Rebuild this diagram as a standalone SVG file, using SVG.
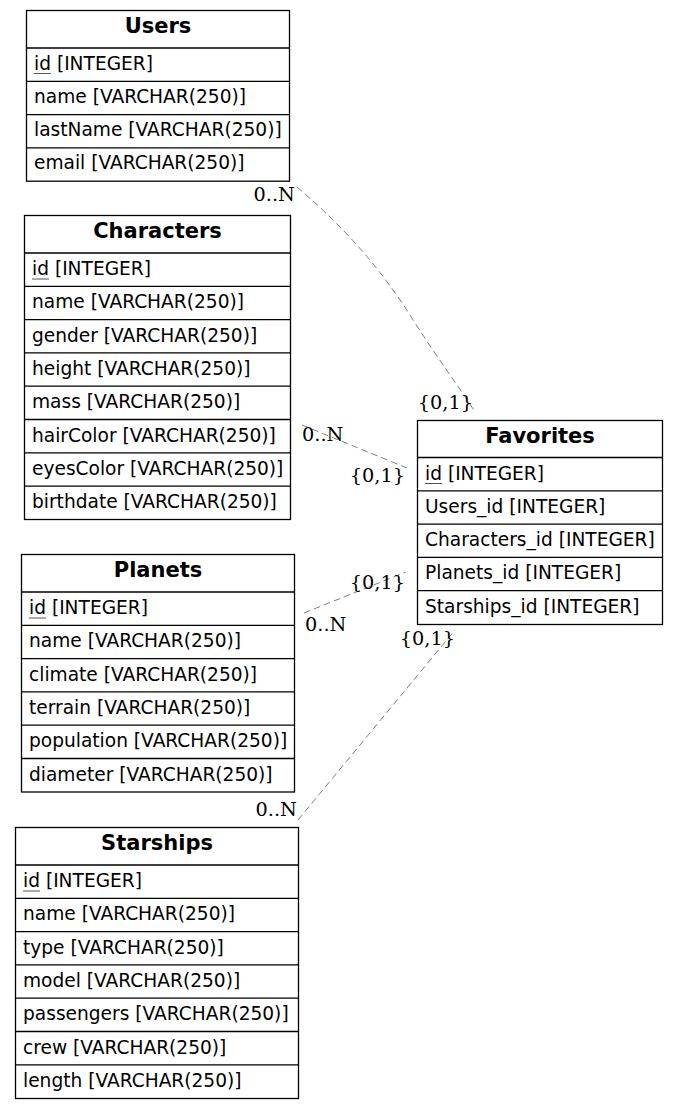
<svg xmlns="http://www.w3.org/2000/svg" width="677" height="1109" viewBox="0 0 677 1109">
<style>
.box{fill:#fff;stroke:#000;stroke-width:1.3}
.sep{stroke:#000;stroke-width:1.3}
.hd{font-family:"DejaVu Sans",sans-serif;font-weight:bold;font-size:21px;text-anchor:middle;fill:#000}
.f{font-family:"DejaVu Sans",sans-serif;font-size:18.6px;fill:#000}
.ul{stroke:#555;stroke-width:1}
.e{fill:none;stroke:#808080;stroke-width:1;stroke-dasharray:6.7,4}
.lb{font-family:"DejaVu Serif",serif;font-size:19.3px;fill:#000}
</style>
<rect width="677" height="1109" fill="#fff"/>
<g id="edges">
<path class="e" d="M297,187 C345,228 380,268 410,315 C435,355 460,388 475,412"/>
<path class="e" d="M302,425 L407,468"/>
<path class="e" d="M304,613 L406,572"/>
<path class="e" d="M298,820 L455,630"/>
<text class="lb" x="295" y="201" text-anchor="end">0..N</text>
<text class="lb" x="473" y="409" text-anchor="end">{0,1}</text>
<text class="lb" x="302" y="441">0..N</text>
<text class="lb" x="405" y="482" text-anchor="end">{0,1}</text>
<text class="lb" x="405" y="589" text-anchor="end">{0,1}</text>
<text class="lb" x="305" y="631">0..N</text>
<text class="lb" x="455" y="645" text-anchor="end">{0,1}</text>
<text class="lb" x="297" y="816" text-anchor="end">0..N</text>
</g>
<g id="Users">
<rect class="box" x="26.5" y="10.5" width="263" height="170.7"/>
<path class="sep" d="M26.5,48H289.5M26.5,81.3H289.5M26.5,114.6H289.5M26.5,147.9H289.5"/>
<text class="hd" x="158" y="33">Users</text>
<text class="f" x="34" y="69.5">id [INTEGER]</text>
<path class="ul" d="M34,73.5h17"/>
<text class="f" x="34" y="102.8">name [VARCHAR(250)]</text>
<text class="f" x="34" y="136.1">lastName [VARCHAR(250)]</text>
<text class="f" x="34" y="169.4">email [VARCHAR(250)]</text>
</g>
<g id="Characters">
<rect class="box" x="24.5" y="215.5" width="266" height="304"/>
<path class="sep" d="M24.5,253H290.5M24.5,286.3H290.5M24.5,319.6H290.5M24.5,352.9H290.5M24.5,386.2H290.5M24.5,419.5H290.5M24.5,452.8H290.5M24.5,486.1H290.5"/>
<text class="hd" x="157.5" y="238">Characters</text>
<text class="f" x="32" y="275">id [INTEGER]</text>
<path class="ul" d="M32,279h17"/>
<text class="f" x="32" y="308.3">name [VARCHAR(250)]</text>
<text class="f" x="32" y="341.6">gender [VARCHAR(250)]</text>
<text class="f" x="32" y="374.9">height [VARCHAR(250)]</text>
<text class="f" x="32" y="408.2">mass [VARCHAR(250)]</text>
<text class="f" x="32" y="441.5">hairColor [VARCHAR(250)]</text>
<text class="f" x="32" y="474.8">eyesColor [VARCHAR(250)]</text>
<text class="f" x="32" y="508.1">birthdate [VARCHAR(250)]</text>
</g>
<g id="Planets">
<rect class="box" x="21.5" y="554.5" width="273" height="237.5"/>
<path class="sep" d="M21.5,592H294.5M21.5,625.3H294.5M21.5,658.6H294.5M21.5,691.9H294.5M21.5,725.2H294.5M21.5,758.5H294.5"/>
<text class="hd" x="158" y="577">Planets</text>
<text class="f" x="29" y="614">id [INTEGER]</text>
<path class="ul" d="M29,618h17"/>
<text class="f" x="29" y="647.3">name [VARCHAR(250)]</text>
<text class="f" x="29" y="680.6">climate [VARCHAR(250)]</text>
<text class="f" x="29" y="713.9">terrain [VARCHAR(250)]</text>
<text class="f" x="29" y="747.2">population [VARCHAR(250)]</text>
<text class="f" x="29" y="780.5">diameter [VARCHAR(250)]</text>
</g>
<g id="Starships">
<rect class="box" x="15.5" y="827.5" width="283" height="271"/>
<path class="sep" d="M15.5,865H298.5M15.5,898.3H298.5M15.5,931.6H298.5M15.5,964.9H298.5M15.5,998.2H298.5M15.5,1031.5H298.5M15.5,1064.8H298.5"/>
<text class="hd" x="157" y="850">Starships</text>
<text class="f" x="23" y="887">id [INTEGER]</text>
<path class="ul" d="M23,891h17"/>
<text class="f" x="23" y="920.3">name [VARCHAR(250)]</text>
<text class="f" x="23" y="953.6">type [VARCHAR(250)]</text>
<text class="f" x="23" y="986.9">model [VARCHAR(250)]</text>
<text class="f" x="23" y="1020.2">passengers [VARCHAR(250)]</text>
<text class="f" x="23" y="1053.5">crew [VARCHAR(250)]</text>
<text class="f" x="23" y="1086.8">length [VARCHAR(250)]</text>
</g>
<g id="Favorites">
<rect class="box" x="417.5" y="420.5" width="245" height="204"/>
<path class="sep" d="M417.5,457.5H662.5M417.5,490.8H662.5M417.5,524.1H662.5M417.5,557.4H662.5M417.5,590.7H662.5"/>
<text class="hd" x="540" y="443">Favorites</text>
<text class="f" x="425" y="479.5">id [INTEGER]</text>
<path class="ul" d="M425,483.5h17"/>
<text class="f" x="425" y="512.8">Users_id [INTEGER]</text>
<text class="f" x="425" y="546.1">Characters_id [INTEGER]</text>
<text class="f" x="425" y="579.4">Planets_id [INTEGER]</text>
<text class="f" x="425" y="612.7">Starships_id [INTEGER]</text>
</g>
</svg>
